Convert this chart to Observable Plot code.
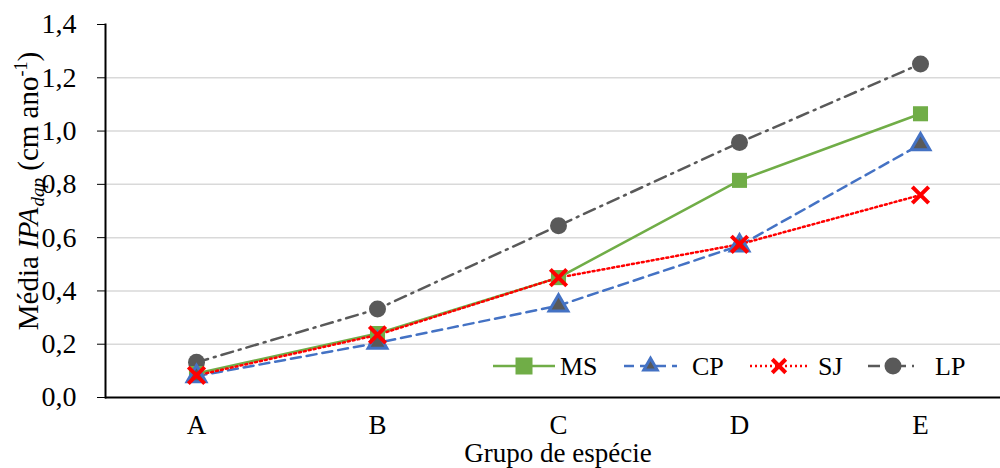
<!DOCTYPE html>
<html><head><meta charset="utf-8">
<script src="https://cdn.jsdelivr.net/npm/d3@7"></script>
<script src="https://cdn.jsdelivr.net/npm/@observablehq/plot@0.6"></script>
<style>
body{margin:0;background:#fff;}
#chart svg{font-family:"Liberation Serif","Times New Roman",serif !important; font-size:28px !important; background:#fff;}
#chart svg text{font-family:"Liberation Serif","Times New Roman",serif !important;}
</style></head>
<body><div id="chart"></div>
<script>
const groups = ["A","B","C","D","E"];
const seriesNames = ["MS","CP","SJ","LP"];
const MS = [0.09, 0.24, 0.45, 0.815, 1.065];
const CP = [0.08, 0.205, 0.345, 0.57, 0.95];
const SJ = [0.083, 0.235, 0.45, 0.575, 0.76];
const LP = [0.132, 0.332, 0.645, 0.957, 1.252];
const yTicks = [0, 0.2, 0.4, 0.6, 0.8, 1.0, 1.2, 1.4];
const gridTicks = [0.2, 0.4, 0.6, 0.8, 1.0, 1.2];

const colors = {MS:"#70ad47", CP:"#4472c4", SJ:"#ff0000", LP:"#595959"};
const dashes = {MS:null, CP:"10,6", SJ:"2,3", LP:"12,6,2,6"};
const valuesBy = {MS, CP, SJ, LP};
const data = seriesNames.flatMap(s => groups.map((g,i) => ({series:s, group:g, value:valuesBy[s][i]})));
const fmt = d => d3.format(".1f")(d).replace(".", ",");

const lineMarks = seriesNames.map(s => Plot.line(data.filter(d=>d.series===s), {
  x:"group", y:"value", stroke: colors[s], strokeWidth: 2.5, strokeDasharray: dashes[s]
}));

const plot = Plot.plot({
  width: 1000, height: 468,
  marginLeft: 105, marginRight: -10, marginTop: 24, marginBottom: 71,
  x: {type:"point", domain: groups, padding: 0.5, label: null},
  y: {domain: [0, 1.4], label: null},
  marks: [
    Plot.ruleY(gridTicks, {stroke:"#d9d9d9", strokeWidth:1.5}),
    Plot.axisY({ticks: yTicks, tickFormat: fmt, tickSize: 8, tickPadding: 21, fontSize: 28, stroke:"#000", fill:"#000"}),
    Plot.axisX({tickSize: 0, tickPadding: 17, fontSize: 27, fill:"#000"}),
    Plot.frame({anchor:"left", stroke:"#000", strokeWidth: 2}),
    Plot.ruleY([0], {stroke:"#000", strokeWidth: 2}),
    ...lineMarks,
    Plot.dot(data.filter(d=>d.series==="LP"), {x:"group", y:"value", symbol:"circle", r: 8.5, fill: colors.LP}),
    Plot.dot(data.filter(d=>d.series==="MS"), {x:"group", y:"value", symbol:"square", r: 8.5, fill: colors.MS}),
    Plot.dot(data.filter(d=>d.series==="CP"), {x:"group", y:"value", symbol:"triangle", r: 7, fill: "#595959", stroke: colors.CP, strokeWidth: 3}),
    Plot.dot(data.filter(d=>d.series==="SJ"), {x:"group", y:"value", symbol:"times", r: 7.5, stroke: colors.SJ, strokeWidth: 4}),
    Plot.text(["Grupo de espécie"], {frameAnchor:"bottom", text: d=>d, dy: 45, lineAnchor: "top", fontSize: 27, fill:"#000"})
  ]
});
document.getElementById("chart").appendChild(plot);

const svg = d3.select(plot);
// y-axis title with italics, subscript and superscript
const yt = svg.append("text")
  .attr("transform", "translate(38,191) rotate(-90)")
  .attr("text-anchor", "middle")
  .style("font-size", "29px").attr("fill", "#000");
yt.append("tspan").text("Média ");
yt.append("tspan").style("font-style","italic").text("IPA");
yt.append("tspan").style("font-style","italic").style("font-size","19px").attr("dy",6).attr("dx",1).text("dap");
yt.append("tspan").attr("dy",-6).text(" (cm ano");
yt.append("tspan").style("font-size","18px").attr("dy",-11).text("-1");
yt.append("tspan").attr("dy",11).text(")");

// legend
const legY = 366;
const leg = svg.append("g").attr("text-anchor", "start");
const items = [
  {s:"MS", x0:493, x1:555, tx:560},
  {s:"CP", x0:624, x1:677, tx:692},
  {s:"SJ", x0:750, x1:808, tx:818},
  {s:"LP", x0:868, x1:918, tx:935}
];
for (const it of items) {
  const c = colors[it.s];
  leg.append("line").attr("x1",it.x0).attr("x2",it.x1).attr("y1",legY).attr("y2",legY)
    .attr("stroke",c).attr("stroke-width",2.5).attr("stroke-dasharray", dashes[it.s]);
  const cx = (it.x0+it.x1)/2;
  if (it.s==="MS") leg.append("rect").attr("x",cx-8.5).attr("y",legY-8.5).attr("width",17).attr("height",17).attr("fill",c);
  if (it.s==="LP") leg.append("circle").attr("cx",cx).attr("cy",legY).attr("r",8.5).attr("fill",c);
  if (it.s==="CP") leg.append("path").attr("d",d3.symbol(d3.symbolTriangle2, 130)()).attr("transform",`translate(${cx},${legY})`).attr("fill","#595959").attr("stroke",c).attr("stroke-width",3);
  if (it.s==="SJ") leg.append("path").attr("d",d3.symbol(d3.symbolTimes, 120)()).attr("transform",`translate(${cx},${legY})`).attr("fill","none").attr("stroke",c).attr("stroke-width",4);
  leg.append("text").attr("x",it.tx).attr("y",legY).attr("dy","0.35em").attr("text-anchor","start").style("font-size","26px").attr("fill","#000").text(it.s);
}
</script></body></html>
